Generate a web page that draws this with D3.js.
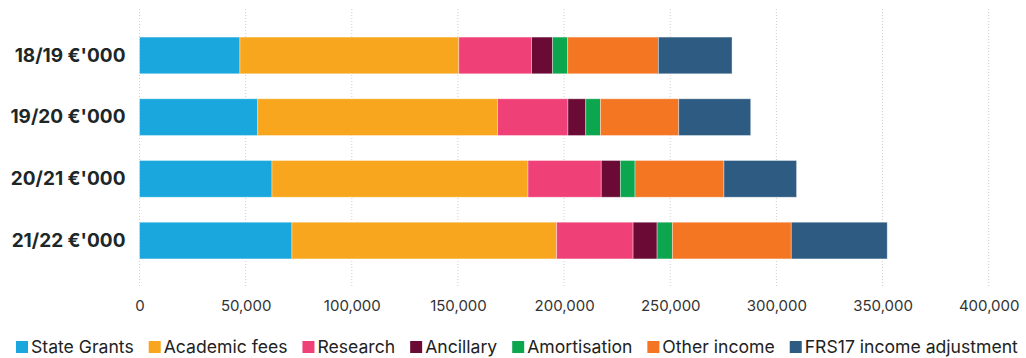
<!DOCTYPE html>
<html>
<head>
<meta charset="utf-8">
<script src="https://cdn.jsdelivr.net/npm/d3@7"></script>
<style>
  html, body { margin: 0; padding: 0; background: #fff; }
  svg { display: block; font-family: Inter, "Noto Sans", sans-serif; }
</style>
</head>
<body>
<svg id="chart" width="1026" height="358"></svg>
<script>
// Income by source, €'000, per academic year
const years = ["18/19 €'000", "19/20 €'000", "20/21 €'000", "21/22 €'000"];
const seriesNames = ["State Grants", "Academic fees", "Research", "Ancillary", "Amortisation", "Other income", "FRS17 income adjustment"];
const seriesColors = ["#1aa7de", "#f8a61d", "#ef4078", "#6b0b35", "#0ba64e", "#f47522", "#2e5b82"];

const stateGrants   = [47300, 55700, 62400, 71800];
const academicFees  = [103100, 113000, 120600, 124700];
const research      = [34300, 33100, 34500, 36000];
const ancillary     = [9900, 8400, 9000, 11300];
const amortisation  = [7100, 6900, 6900, 7200];
const otherIncome   = [42700, 36900, 41900, 56000];
const frs17         = [34700, 33900, 34200, 45200];

const xTicks = [0, 50000, 100000, 150000, 200000, 250000, 300000, 350000, 400000];

const seriesValues = [stateGrants, academicFees, research, ancillary, amortisation, otherIncome, frs17];

// Table rows for the stack layout
const rows = years.map((y, i) => {
  const r = { year: y };
  seriesNames.forEach((s, k) => { r[s] = seriesValues[k][i]; });
  return r;
});

const svg = d3.select("#chart");
const plot = { left: 139.5, right: 988.7, top: 9, bottom: 287 };

const x = d3.scaleLinear().domain([0, 400000]).range([plot.left, plot.right]);
const y = d3.scaleBand().domain(years).range([plot.top, plot.bottom])
  .paddingInner(0.405).paddingOuter(0.455);

// Dotted vertical grid lines
svg.append("g").selectAll("line").data(xTicks).join("line")
  .attr("x1", d => x(d)).attr("x2", d => x(d))
  .attr("y1", plot.top).attr("y2", plot.bottom)
  .attr("stroke", "#cfcfcf").attr("stroke-width", 1)
  .attr("stroke-dasharray", "1,2");

// Stacked bars
const stack = d3.stack().keys(seriesNames)(rows);
svg.append("g").selectAll("g").data(stack).join("g")
  .attr("fill", (d, i) => seriesColors[i])
  .selectAll("rect").data(d => d).join("rect")
  .attr("x", d => x(d[0]))
  .attr("width", d => x(d[1]) - x(d[0]))
  .attr("y", d => y(d.data.year))
  .attr("height", y.bandwidth())
  .attr("stroke", "rgba(255,255,255,0.45)")
  .attr("stroke-width", 0.8);

// Category labels
const yAxis = svg.append("g")
  .attr("transform", `translate(${plot.left - 14},0)`)
  .call(d3.axisLeft(y).tickSize(0).tickPadding(0));
yAxis.select(".domain").remove();
yAxis.selectAll("text")
  .attr("font-family", "Inter, sans-serif")
  .attr("font-size", 19)
  .attr("font-weight", 700)
  .attr("fill", "#1d2727");

// Value axis labels
const xAxis = svg.append("g")
  .attr("transform", `translate(0,${plot.bottom})`)
  .call(d3.axisBottom(x).tickValues(xTicks).tickFormat(d3.format(",")).tickSize(0).tickPadding(13));
xAxis.select(".domain").remove();
xAxis.selectAll("text")
  .attr("font-family", "Inter, sans-serif")
  .attr("font-size", 15)
  .attr("fill", "#333");

// Legend
const legend = svg.append("g").attr("transform", "translate(16,347)");
let lx = 0;
seriesNames.forEach((name, i) => {
  const g = legend.append("g").attr("transform", `translate(${lx},0)`);
  g.append("rect").attr("x", 0).attr("y", -6).attr("width", 12).attr("height", 12)
    .attr("fill", seriesColors[i]);
  const t = g.append("text").attr("x", 15).attr("y", 0).attr("dy", "0.35em")
    .attr("font-family", "Inter, sans-serif").attr("font-size", 17.6)
    .attr("fill", "#222").text(name);
  lx += 15 + t.node().getComputedTextLength() + 15;
});
</script>
</body>
</html>
